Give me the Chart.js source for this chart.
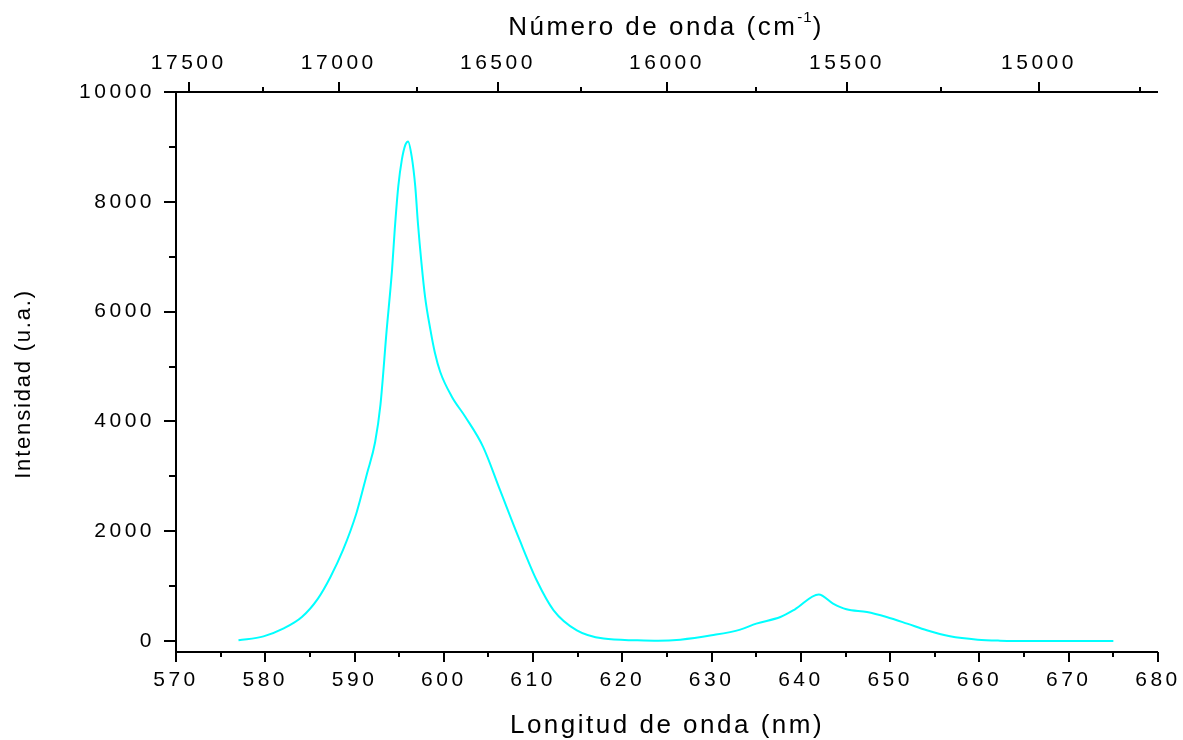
<!DOCTYPE html>
<html>
<head>
<meta charset="utf-8">
<script src="https://cdn.jsdelivr.net/npm/chart.js@4.4.1/dist/chart.umd.min.js"></script>
<style>
  html, body { margin: 0; padding: 0; background: #ffffff; }
  #wrap { width: 1183px; height: 740px; }
</style>
</head>
<body>
<div id="wrap"><canvas id="c" width="1183" height="740"></canvas></div>
<script>
// Emission spectrum: wavelength (nm) and intensity (u.a.)
const wavelengthNm = [
  577.0, 579.8, 582.0, 584.1, 585.9, 587.3, 588.7, 590.2, 591.4, 592.3,
  592.9, 593.6, 594.2, 594.5, 594.9, 595.3, 595.7, 596.0, 596.4, 596.8,
  597.1, 597.5, 597.9, 598.5, 599.0, 599.6, 600.9, 602.4, 604.4, 606.3,
  608.5, 610.4, 612.3, 614.9, 617.9, 621.6, 624.0, 626.5, 630.0, 633.2,
  635.0, 637.7, 639.3, 642.0, 643.6, 645.1, 647.4, 649.6, 651.9, 654.1,
  656.7, 659.8, 662.3, 666.0, 670.0, 675.0
];
const intensity = [
  13, 85, 226, 438, 773, 1167, 1654, 2323, 3053, 3620,
  4300, 5666, 6760, 7489, 8280, 8767, 9040, 9100, 8826, 8280,
  7610, 6880, 6270, 5666, 5250, 4900, 4450, 4085, 3537, 2748,
  1836, 1107, 560, 195, 44, 13, 5, 25, 104, 208,
  317, 438, 573, 847, 682, 578, 529, 438, 317, 195,
  86, 25, 7, 0, 0, 0
];

// Axis ticks
const wavelengthMajor = [570, 580, 590, 600, 610, 620, 630, 640, 650, 660, 670, 680];
const wavelengthMinor = [575, 585, 595, 605, 615, 625, 635, 645, 655, 665, 675];
const wavenumberMajor = [17500, 17000, 16500, 16000, 15500, 15000];
const wavenumberMinor = [17250, 16750, 16250, 15750, 15250, 14750];
const intensityMajor = [0, 2000, 4000, 6000, 8000, 10000];
const intensityMinor = [1000, 3000, 5000, 7000, 9000];

const FONT = '"Liberation Sans", Arial, Helvetica, sans-serif';
const toNm = wn => 1e7 / wn;

// Axis lines, outward tick marks and axis titles
const axisDecor = {
  id: 'axisDecor',
  beforeDraw(chart) {
    chart.ctx.letterSpacing = '3.5px';
  },
  afterDraw(chart) {
    const ctx = chart.ctx;
    const { left, right, top, bottom } = chart.chartArea;
    const sx = chart.scales.x, sx2 = chart.scales.x2, sy = chart.scales.y;
    ctx.save();
    ctx.letterSpacing = '0px';
    ctx.strokeStyle = '#000';
    ctx.lineWidth = 2;
    ctx.lineCap = 'butt';
    const line = (x1, y1, x2, y2) => { ctx.beginPath(); ctx.moveTo(x1, y1); ctx.lineTo(x2, y2); ctx.stroke(); };

    // axis lines
    line(left, top, right, top);
    line(left - 1, bottom, right, bottom);
    line(left, top - 1, left, bottom + 1);

    // bottom ticks
    wavelengthMajor.forEach(v => { const p = Math.round(sx.getPixelForValue(v)); line(p, bottom, p, bottom + 10); });
    wavelengthMinor.forEach(v => { const p = Math.round(sx.getPixelForValue(v)); line(p, bottom, p, bottom + 5); });
    // top ticks (wavenumber)
    wavenumberMajor.forEach(v => { const p = Math.round(sx2.getPixelForValue(toNm(v))); line(p, top, p, top - 10); });
    wavenumberMinor.forEach(v => { const p = Math.round(sx2.getPixelForValue(toNm(v))); line(p, top, p, top - 5); });
    // left ticks
    intensityMajor.forEach(v => { const p = Math.round(sy.getPixelForValue(v)); line(left, p, left - 12, p); });
    intensityMinor.forEach(v => { const p = Math.round(sy.getPixelForValue(v)); line(left, p, left - 7, p); });

    // titles
    ctx.fillStyle = '#000';
    ctx.textBaseline = 'alphabetic';

    ctx.font = '26px ' + FONT;
    ctx.letterSpacing = '2.5px';
    ctx.textAlign = 'center';
    ctx.fillText('Longitud de onda (nm)', 667, 733);

    // top title with superscript
    const main = 'Número de onda (cm';
    const sup = '-1';
    const close = ')';
    ctx.textAlign = 'left';
    ctx.font = '26px ' + FONT;
    const wMain = ctx.measureText(main).width;
    const wClose = ctx.measureText(close).width;
    ctx.font = '15px ' + FONT;
    ctx.letterSpacing = '1px';
    const wSup = ctx.measureText(sup).width;
    const total = wMain + wSup + wClose;
    let x0 = 666 - total / 2;
    ctx.font = '26px ' + FONT;
    ctx.letterSpacing = '2.5px';
    ctx.fillText(main, x0, 35);
    ctx.font = '15px ' + FONT;
    ctx.letterSpacing = '1px';
    ctx.fillText(sup, x0 + wMain, 22);
    ctx.font = '26px ' + FONT;
    ctx.letterSpacing = '2.5px';
    ctx.fillText(close, x0 + wMain + wSup, 35);

    // left title
    ctx.save();
    ctx.translate(30, 384);
    ctx.rotate(-Math.PI / 2);
    ctx.textAlign = 'center';
    ctx.font = '22px ' + FONT;
    ctx.letterSpacing = '1.8px';
    ctx.fillText('Intensidad (u.a.)', 0, 0);
    ctx.restore();

    ctx.restore();
  }
};

const noSidePadding = s => { s.paddingLeft = 0; s.paddingRight = 0; };

new Chart(document.getElementById('c'), {
  type: 'line',
  data: {
    datasets: [{
      data: wavelengthNm.map((w, i) => ({ x: w, y: intensity[i] })),
      borderColor: '#00FFFF',
      borderWidth: 2,
      pointRadius: 0,
      fill: false,
      cubicInterpolationMode: 'monotone'
    }]
  },
  options: {
    responsive: false,
    animation: false,
    devicePixelRatio: 1,
    layout: { padding: { left: 0, right: 25, top: 0, bottom: 0 } },
    plugins: { legend: { display: false }, tooltip: { enabled: false } },
    scales: {
      x: {
        type: 'linear',
        position: 'bottom',
        min: 570, max: 680,
        afterBuildTicks: s => { s.ticks = wavelengthMajor.map(v => ({ value: v })); },
        afterFit: s => { s.height = 88; noSidePadding(s); },
        grid: { display: false },
        border: { display: false },
        ticks: {
          padding: 8,
          maxRotation: 0,
          autoSkip: false,
          color: '#000',
          font: { family: FONT, size: 21 },
          callback: v => String(v)
        }
      },
      x2: {
        type: 'linear',
        position: 'top',
        min: 570, max: 680,
        afterBuildTicks: s => { s.ticks = wavenumberMajor.map(v => ({ value: toNm(v) })); },
        afterFit: s => { s.height = 92; noSidePadding(s); },
        grid: { display: false },
        border: { display: false },
        ticks: {
          padding: 8,
          maxRotation: 0,
          autoSkip: false,
          color: '#000',
          font: { family: FONT, size: 21 },
          callback: (v, i) => String(wavenumberMajor[i])
        }
      },
      y: {
        type: 'linear',
        min: -200, max: 10000,
        afterBuildTicks: s => { s.ticks = intensityMajor.map(v => ({ value: v })); },
        afterFit: s => { s.width = 176; s.paddingTop = 0; s.paddingBottom = 0; },
        grid: { display: false },
        border: { display: false },
        ticks: {
          padding: 13,
          autoSkip: false,
          color: '#000',
          font: { family: FONT, size: 21 },
          callback: v => String(v)
        }
      }
    }
  },
  plugins: [axisDecor]
});
</script>
</body>
</html>
